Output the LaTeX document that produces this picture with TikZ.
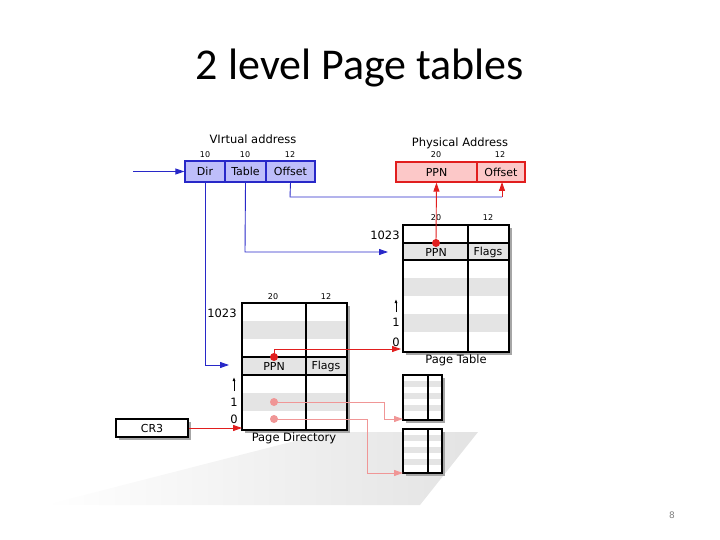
\documentclass[tikz,border=0pt]{standalone}
\usepackage{fontspec}
\setmainfont{DejaVu Sans}
\newfontfamily\titlefont{Carlito}
\usetikzlibrary{arrows.meta}
\definecolor{vblue}{RGB}{40,40,200}
\definecolor{vfill}{RGB}{190,190,250}
\definecolor{pred}{RGB}{225,30,30}
\definecolor{pfill}{RGB}{252,200,200}
\definecolor{pink}{RGB}{240,150,150}
\definecolor{stripe}{RGB}{228,228,228}
\tikzset{
 vbox/.style={draw=vblue,fill=vfill,line width=1.2pt,minimum height=21pt,inner sep=0pt,font=\fontsize{11}{11}\selectfont},
 pbox/.style={draw=pred,fill=pfill,line width=1.2pt,minimum height=20pt,inner sep=0pt,font=\fontsize{11}{11}\selectfont},
 bits/.style={font=\fontsize{8}{8}\selectfont},
 lab/.style={font=\fontsize{11.5}{11.5}\selectfont},
 barr/.style={vblue,line width=0.9pt,-{Triangle[length=9pt,width=6pt]}},
 rarr/.style={pred,line width=0.9pt,-{Triangle[length=9pt,width=6pt]}},
 karr/.style={pink,line width=0.9pt,-{Triangle[length=9pt,width=6pt]}},
 tbl/.style={draw=black,line width=1.2pt},
 shad/.style={fill=gray!70},
 cell/.style={font=\fontsize{11}{11}\selectfont},
}
\begin{document}
\begin{tikzpicture}[x=1pt,y=-1pt]
\useasboundingbox (0,0) rectangle (720,540);
\node[font=\titlefont\fontsize{44}{44}\selectfont] (title) at (360,68) {2 level Page tables};
\node[font=\fontsize{9}{9}\selectfont,text=gray] (pg) at (672,515) {8};
% floor shadow
\shade[left color=white,right color=gray!22] (45,505) -- (330,432) -- (478,432) -- (420,505) -- cycle;
% virtual address
\node[lab] (vlab) at (253,139) {VIrtual address};
\node[vbox,minimum width=40pt] (dir) at (205,171.5) {Dir};
\node[vbox,minimum width=41pt] (tab) at (245.5,171.5) {Table};
\node[vbox,minimum width=49pt] (off) at (290.5,171.5) {Offset};
\node[bits] (b1) at (205,155) {10};
\node[bits] (b2) at (245,155) {10};
\node[bits] (b3) at (290,155) {12};
\coordinate (vin) at (133,171.5);
\draw[barr] (vin) -- (dir.west);
% physical address
\node[lab] (plab) at (460,143) {Physical Address};
\node[pbox,minimum width=81pt] (ppn) at (436.5,172) {PPN};
\node[pbox,minimum width=48pt] (poff) at (501,172) {Offset};
\node[bits] (b4) at (436,155) {20};
\node[bits] (b5) at (500,155) {12};
\draw[vblue,line width=0.9pt] (off.south) -- (290,197) -- (502,197);
\draw[rarr] (502,197) -- (502,182);
% page table
\fill[shad] (406,228) rectangle (512,355);
\fill[white] (403,225) rectangle (509,352);
\foreach \y in {278,314} \fill[stripe] (403,\y) rectangle (509,\y+18);
\fill[stripe] (403,243) rectangle (509,260);
\draw[line width=1.2pt] (403,243) -- (509,243) (403,260) -- (509,260);
\draw[tbl] (403,225) rectangle (509,352);
\draw[line width=1.2pt] (468,225) -- (468,352);
\node[cell] (pt1) at (436,252) {PPN};
\node[cell] (pt2) at (488,252) {Flags};
\node[bits] (b6) at (436,218) {20};
\node[bits] (b7) at (488,218) {12};
\node[lab] (n1) at (385,235) {1023};
\node[lab] (n2) at (396,322) {1};
\node[lab] (n3) at (396,342) {0};
\draw[line width=0.8pt,-{Latex[length=4pt,width=3pt]}] (396,312) -- (396,299);
\node[lab] (ptl) at (456,360) {Page Table};
\fill[pred] (436,243) circle (4);
\draw[rarr] (436,243) -- (ppn.south);
% table arrow
\draw[barr] (tab.south) -- (245,252) -- (388,252);
% page directory
\fill[shad] (245,306) rectangle (350,433);
\fill[white] (242,303) rectangle (347,430);
\foreach \y in {321,393} \fill[stripe] (242,\y) rectangle (347,\y+18);
\fill[stripe] (242,357) rectangle (347,375);
\draw[line width=1.2pt] (242,357) -- (347,357) (242,375) -- (347,375);
\draw[tbl] (242,303) rectangle (347,430);
\draw[line width=1.2pt] (306,303) -- (306,430);
\node[cell] (pd1) at (274,366) {PPN};
\node[cell] (pd2) at (326,366) {Flags};
\node[bits] (b8) at (273,297) {20};
\node[bits] (b9) at (326,297) {12};
\node[lab] (n4) at (222,313) {1023};
\node[lab] (n5) at (234,402) {1};
\node[lab] (n6) at (234,419) {0};
\draw[line width=0.8pt,-{Latex[length=4pt,width=3pt]}] (234,391) -- (234,377);
\node[lab] (pdl) at (294,438) {Page Directory};
\draw[barr] (dir.south) -- (205,365) -- (229,365);
\fill[pred] (274,357) circle (4);
\draw[rarr] (274,357) -- (274,349) -- (401,349);
% CR3
\fill[shad] (119,422) rectangle (191,440);
\node[draw,line width=1.2pt,fill=white,minimum width=72pt,minimum height=18pt,inner sep=0pt,cell] (cr3) at (152,428) {CR3};
\draw[rarr] (cr3.east) -- (242,428);
% small tables
\foreach \t/\b in {375/420,429/473}{
 \fill[shad] (406,\t+3) rectangle (445,\b+3);
 \fill[white] (403,\t) rectangle (442,\b);
 \foreach \k in {1,3,5} \fill[stripe] (403,\t+\k*6) rectangle (442,\t+\k*6+6);
 \draw[tbl] (403,\t) rectangle (442,\b);
 \draw[line width=1.2pt] (428,\t) -- (428,\b);
}
\fill[pink] (274,402) circle (4);
\fill[pink] (274,419) circle (4);
\draw[karr] (274,402) -- (384,402) -- (384,419) -- (403,419);
\draw[karr] (274,419) -- (367,419) -- (367,473) -- (403,473);
\end{tikzpicture}
\end{document}
